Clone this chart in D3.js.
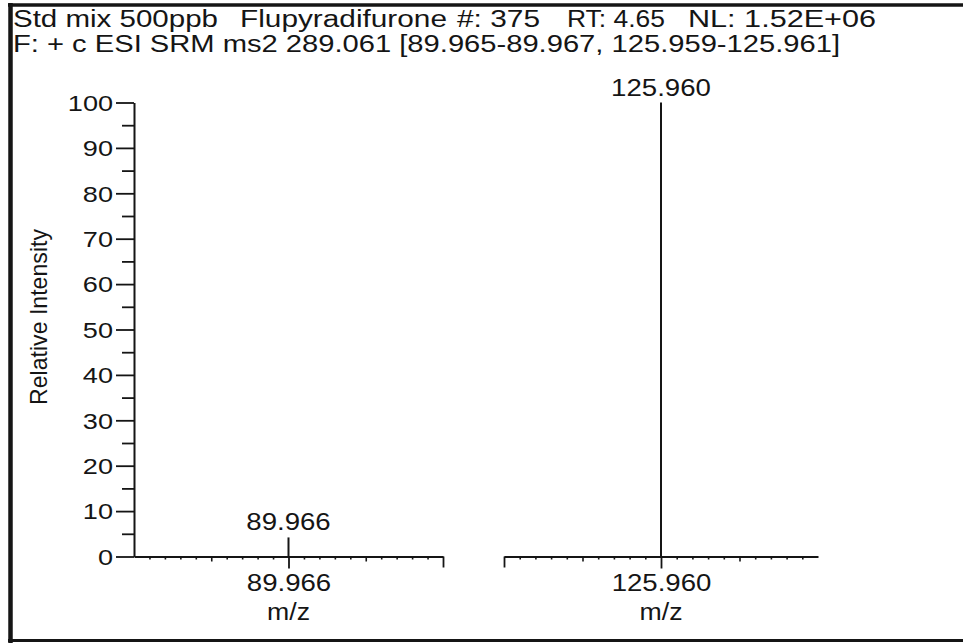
<!DOCTYPE html>
<html>
<head>
<meta charset="utf-8">
<script src="https://cdn.jsdelivr.net/npm/d3@7"></script>
<style>
  html, body { margin: 0; padding: 0; background: #fff; }
  svg { display: block; font-family: "Liberation Sans", Arial, sans-serif; }
  text { fill: #151515; }
</style>
</head>
<body>
<svg id="chart" width="963" height="643"></svg>
<script>
// ---- data ----
const headerLine1 = ["Std mix 500ppb", "Flupyradifurone", "#: 375", "RT: 4.65", "NL: 1.52E+06"];
const headerLine2 = "F: + c ESI SRM ms2 289.061 [89.965-89.967, 125.959-125.961]";
const peakMz = [89.966, 125.960];
const peakIntensity = [4.2, 100];
const yTickValues = [0, 10, 20, 30, 40, 50, 60, 70, 80, 90, 100];
const yMinorValues = [5, 15, 25, 35, 45, 55, 65, 75, 85, 95];
const mzHalfWindow = 0.010;
const mzMinorStep = 0.001;
const yLabel = "Relative Intensity";
const xLabel = "m/z";

// ---- layout ----
const header1X = [13, 240, 457, 567, 688];
const header1W = [205, 207, 83, 98, 188];
const panelRanges = [[134, 443], [504, 818]];
const yTop = 102.5, yBottom = 556.5;
const ink = "#151515";

const svg = d3.select("#chart");

// frame
svg.append("line").attr("x1", 8).attr("x2", 963).attr("y1", 5).attr("y2", 5)
  .attr("stroke", ink).attr("stroke-width", 3.5);
svg.append("line").attr("x1", 10.5).attr("x2", 10.5).attr("y1", 3).attr("y2", 643)
  .attr("stroke", ink).attr("stroke-width", 4.5);
svg.append("line").attr("x1", 8).attr("x2", 963).attr("y1", 640.5).attr("y2", 640.5)
  .attr("stroke", ink).attr("stroke-width", 3);

// header
headerLine1.forEach((t, i) => {
  svg.append("text").attr("x", header1X[i]).attr("y", 27)
    .attr("font-size", 23.5)
    .attr("textLength", header1W[i]).attr("lengthAdjust", "spacingAndGlyphs")
    .text(t);
});
svg.append("text").attr("x", 13).attr("y", 52)
  .attr("font-size", 23.5)
  .attr("textLength", 827).attr("lengthAdjust", "spacingAndGlyphs")
  .text(headerLine2);

// widen a text element horizontally by a factor, keeping its anchor
function widen(sel, factor) {
  sel.each(function () {
    const len = this.getComputedTextLength();
    d3.select(this).attr("textLength", len * factor).attr("lengthAdjust", "spacingAndGlyphs");
  });
}

// y scale + axis
const y = d3.scaleLinear().domain([0, 100]).range([yBottom, yTop]);
const x0 = panelRanges[0][0];

const yAxis = svg.append("g").attr("transform", `translate(${x0},0)`)
  .call(d3.axisLeft(y).tickValues(yTickValues).tickSize(18).tickSizeOuter(0).tickPadding(3));
yAxis.select(".domain").attr("stroke", ink).attr("stroke-width", 2);
yAxis.selectAll(".tick line").attr("stroke", ink).attr("stroke-width", 1.8);
yAxis.selectAll(".tick text").attr("font-size", 21.5).attr("font-family", "Liberation Sans, Arial, sans-serif")
  .attr("fill", ink).attr("dy", "0.36em");
widen(yAxis.selectAll(".tick text"), 1.26);

const yMinor = svg.append("g").attr("transform", `translate(${x0},0)`)
  .call(d3.axisLeft(y).tickValues(yMinorValues).tickSize(12).tickFormat(""));
yMinor.select(".domain").remove();
yMinor.selectAll(".tick line").attr("stroke", ink).attr("stroke-width", 1.8);

// y label
svg.append("text")
  .attr("transform", "translate(47,317) rotate(-90)")
  .attr("text-anchor", "middle").attr("font-size", 24)
  .attr("textLength", 176).attr("lengthAdjust", "spacingAndGlyphs")
  .text(yLabel);

// panels
peakMz.forEach((mz, i) => {
  const x = d3.scaleLinear().domain([mz - mzHalfWindow, mz + mzHalfWindow]).range(panelRanges[i]);
  const g = svg.append("g").attr("transform", `translate(0,${yBottom})`);

  const minor = d3.range(-10, 11).filter(k => k % 5 !== 0).map(k => mz + k * mzMinorStep);
  const medium = [mz - 5 * mzMinorStep, mz + 5 * mzMinorStep];

  const aMinor = g.append("g").call(d3.axisBottom(x).tickValues(minor).tickSize(3).tickSizeOuter(0).tickFormat(""));
  aMinor.select(".domain").attr("stroke", ink).attr("stroke-width", 2);
  aMinor.selectAll(".tick line").attr("stroke", ink).attr("stroke-width", 1.6);

  const aMed = g.append("g").call(d3.axisBottom(x).tickValues(medium).tickSize(5).tickFormat(""));
  aMed.select(".domain").remove();
  aMed.selectAll(".tick line").attr("stroke", ink).attr("stroke-width", 1.6);

  // broken-axis end tick (inner side of each panel)
  const endVal = i === 0 ? mz + mzHalfWindow : mz - mzHalfWindow;
  const aEnd = g.append("g").call(d3.axisBottom(x).tickValues([endVal]).tickSize(11).tickFormat(""));
  aEnd.select(".domain").remove();
  aEnd.selectAll(".tick line").attr("stroke", ink).attr("stroke-width", 1.8);

  // centre tick with m/z value
  const aMain = g.append("g").call(d3.axisBottom(x).tickValues([mz]).tickSize(12).tickPadding(6)
    .tickFormat(d3.format(".3f")));
  aMain.select(".domain").remove();
  aMain.selectAll(".tick line").attr("stroke", ink).attr("stroke-width", 1.8);
  aMain.selectAll(".tick text").attr("font-size", 23).attr("font-family", "Liberation Sans, Arial, sans-serif")
    .attr("fill", ink);
  widen(aMain.selectAll(".tick text"), 1.2);

  // x label
  g.append("text").attr("x", x(mz)).attr("y", 63).attr("text-anchor", "middle")
    .attr("font-size", 23).attr("textLength", 43).attr("lengthAdjust", "spacingAndGlyphs")
    .text(xLabel);

  // peak stick
  svg.append("line")
    .attr("x1", x(mz)).attr("x2", x(mz))
    .attr("y1", y(0)).attr("y2", y(peakIntensity[i]))
    .attr("stroke", ink).attr("stroke-width", 2);

  // peak label
  const lbl = svg.append("text").attr("x", x(mz)).attr("y", y(peakIntensity[i]) - 7)
    .attr("text-anchor", "middle").attr("font-size", 23)
    .text(d3.format(".3f")(mz));
  widen(lbl, 1.2);
});
</script>
</body>
</html>
